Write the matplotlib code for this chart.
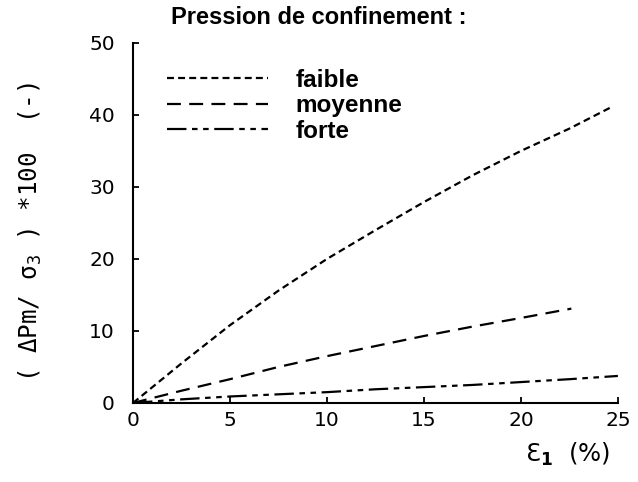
import matplotlib
matplotlib.use('Agg')
import matplotlib.pyplot as plt

plt.rcParams['font.family'] = ['DejaVu Sans']
plt.rcParams['lines.scale_dashes'] = False
plt.rcParams['mathtext.fontset'] = 'custom'
plt.rcParams['mathtext.rm'] = 'DejaVu Sans Mono'
plt.rcParams['mathtext.it'] = 'DejaVu Sans Mono'
plt.rcParams['mathtext.bf'] = 'DejaVu Sans:bold'

# données
eps_faible = [0, 2.5, 5, 7.5, 10, 12.5, 15, 17.5, 20, 22.5, 24.6]
dpm_faible = [0, 5.5, 10.8, 15.6, 20.0, 24.0, 27.9, 31.6, 35.0, 38.1, 41.0]

eps_moyenne = [0, 2.5, 5, 7.5, 10, 12.5, 15, 17.5, 20, 22.6]
dpm_moyenne = [0, 1.7, 3.3, 5.0, 6.5, 7.9, 9.3, 10.6, 11.8, 13.1]

eps_forte = [0, 2.5, 5, 7.5, 10, 12.5, 15, 17.5, 20, 22.5, 25]
dpm_forte = [0, 0.5, 0.9, 1.2, 1.5, 1.9, 2.2, 2.5, 2.9, 3.3, 3.75]

labels = ['faible', 'moyenne', 'forte']

fig = plt.figure(figsize=(6.38, 4.82), dpi=100)
ax = fig.add_axes([0.2085, 0.164, 0.760, 0.747])

l1, = ax.plot(eps_faible, dpm_faible, color='black', lw=1.6, dashes=(5, 3))
l2, = ax.plot(eps_moyenne, dpm_moyenne, color='black', lw=1.6, dashes=(10, 6))
l3, = ax.plot(eps_forte, dpm_forte, color='black', lw=1.6, dashes=(14, 4, 4, 4, 4, 4))

ax.set_xlim(0, 25)
ax.set_ylim(0, 50)
ax.set_xticks([0, 5, 10, 15, 20, 25])
ax.set_yticks([0, 10, 20, 30, 40, 50])
ax.spines['top'].set_visible(False)
ax.spines['right'].set_visible(False)
ax.spines['left'].set_linewidth(1.5)
ax.spines['bottom'].set_linewidth(1.5)
ax.tick_params(direction='in', length=4, width=1.3, labelsize=14.5)
ax.tick_params(axis='x', pad=6)
ax.tick_params(axis='y', pad=13)

leg = ax.legend([l1, l2, l3], labels, loc='upper left', bbox_to_anchor=(0.07, 0.928),
                frameon=False, handlelength=4.15, handletextpad=1.15, labelspacing=0.1,
                borderpad=0, borderaxespad=0,
                prop={'family': 'Liberation Sans', 'size': 17.5, 'weight': 'bold'})

fig.text(0.50, 0.963, 'Pression de confinement :', ha='center', va='center',
         family='Liberation Sans', fontsize=17, fontweight='bold')

fig.text(0.047, 0.518, '( ΔPm/ σ$_3$ ) *100  (-)', rotation=90, ha='center', va='center',
         family='DejaVu Sans Mono', fontsize=17.5)
fig.text(0.889, 0.058, 'Ɛ$_\\mathbf{1}$  (%)', ha='center', va='center', fontsize=17.5)

fig.savefig('out.png', dpi=100)
